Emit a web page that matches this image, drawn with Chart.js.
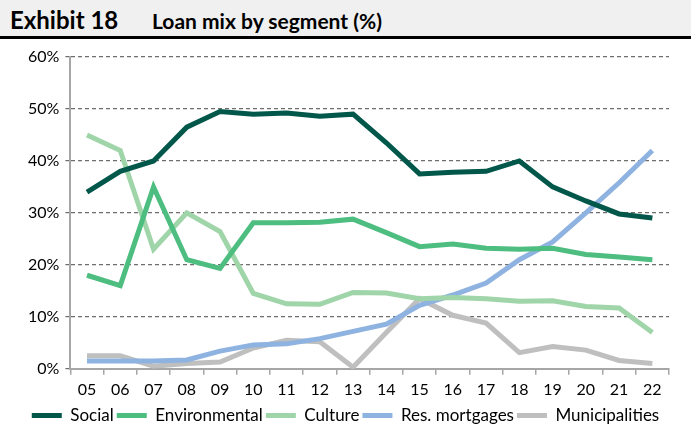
<!DOCTYPE html>
<html>
<head>
<meta charset="utf-8">
<script src="https://cdn.jsdelivr.net/npm/chart.js@4/dist/chart.umd.min.js"></script>
<style>
body{margin:0;background:#fff;font-family:Lato,"Open Sans",sans-serif;overflow:hidden;}
#title{height:36px;background:#f0f0f0;border-bottom:3px solid #000;position:relative;}
#title span{position:absolute;top:5px;font-weight:bold;font-size:24px;color:#000;}
#wrap{position:relative;width:691px;height:395px;}
</style>
</head>
<body>
<div id="title"><span style="left:10px">Exhibit 18</span><span style="left:152px;font-size:21px;top:8px">Loan mix by segment (%)</span></div>
<div id="wrap"><canvas id="canvas"></canvas></div>
<script>
var years=['05','06','07','08','09','10','11','12','13','14','15','16','17','18','19','20','21','22'];
var social=[34,38,40,46.5,49.5,49,49.2,48.6,49,43.5,37.5,37.8,38,40,35,32.3,29.8,29];
var environmental=[18,16,35,21,19.3,28.1,28.1,28.2,28.8,26.2,23.5,24,23.2,23,23.2,22,21.5,21];
var culture=[45,42,23,30,26.4,14.5,12.5,12.4,14.7,14.6,13.5,13.7,13.5,13,13.1,12,11.7,7];
var mortgages=[1.5,1.5,1.5,1.7,3.4,4.6,4.8,5.8,7.2,8.6,12.2,14.2,16.5,21,24.4,30,35.8,42];
var municipalities=[2.5,2.5,0.5,1,1.3,4,5.5,5.2,0.3,7,13.5,10.3,8.8,3.1,4.3,3.6,1.6,1];

function series(label,data,color){
	return {label:label,data:data,borderColor:color,backgroundColor:color,borderWidth:5,
		pointRadius:0,tension:0,fill:false,pointStyle:'line'};
}
var config={};
config['type']='line';
config['data']={labels:years,datasets:[
	series('Social',social,'#00574a'),
	series('Environmental',environmental,'#4dbd80'),
	series('Culture',culture,'#9fd5a9'),
	series('Res. mortgages',mortgages,'#8fb3e0'),
	series('Municipalities',municipalities,'#bfbfbf')
]};
config['options']={
	responsive:true,maintainAspectRatio:false,animation:false,
	layout:{padding:{left:22,right:22,top:18,bottom:0}},
	plugins:{
		legend:{position:'bottom',labels:{usePointStyle:true,pointStyleWidth:30,boxHeight:5,padding:3,
			color:'#000',font:{family:'Lato',size:17}}},
		tooltip:{enabled:false}
	},
	scales:{
		x:{offset:true,
			grid:{display:true,drawOnChartArea:false,offset:true,tickLength:6,color:'#a6a6a6',lineWidth:1.5},
			border:{color:'#a6a6a6',width:2},
			ticks:{color:'#000',font:{family:'Lato',size:16},padding:5,maxRotation:0}},
		y:{min:0,max:60,
			grid:{color:'#6e6e6e',tickLength:5,lineWidth:1.2},
			border:{color:'#a6a6a6',width:2,dash:[4,3]},
			ticks:{stepSize:10,color:'#000',font:{family:'Lato',size:16},padding:6,
				callback:function(v){return v+'%';}}}
	}
};
var ctx=document.getElementById('canvas').getContext('2d');
window.myLine=new Chart(ctx,config);
</script>
</body>
</html>
